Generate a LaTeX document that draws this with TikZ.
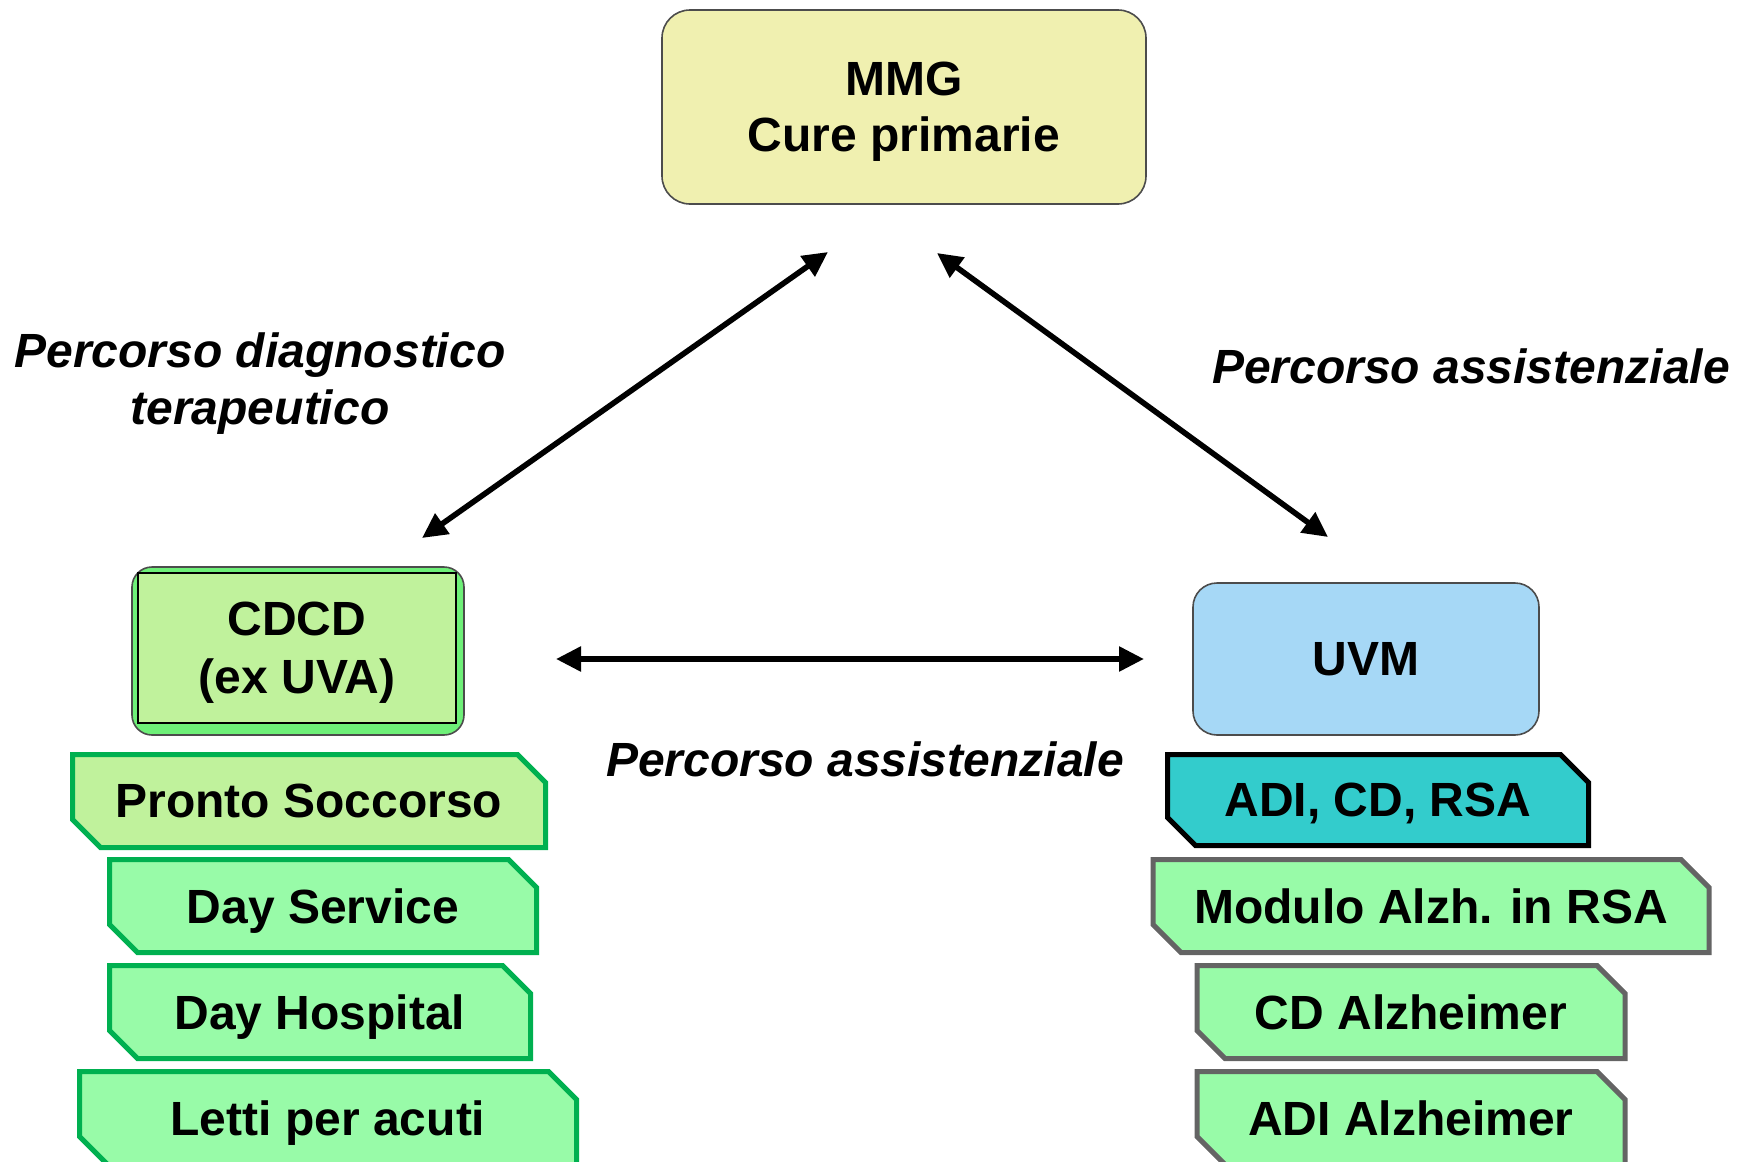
\documentclass[tikz,border=0pt]{standalone}
\usepackage{fontspec}
\setmainfont{Liberation Sans}
\usepackage{tikz}
\usetikzlibrary{shapes.misc}
\usetikzlibrary{arrows.meta}

\definecolor{mmgfill}{RGB}{240,240,176}
\definecolor{cdcdfill}{RGB}{192,242,156}
\definecolor{cdcdshade}{RGB}{110,240,120}
\definecolor{palefill}{RGB}{152,251,168}
\definecolor{greenline}{RGB}{0,176,80}
\definecolor{uvmfill}{RGB}{166,216,246}
\definecolor{adifill}{RGB}{51,204,204}
\definecolor{grayline}{RGB}{100,100,100}

\begin{document}
\begin{tikzpicture}[x=0.5pt,y=-0.5pt,
    font=\fontsize{24}{28}\selectfont\bfseries,
    roundbox/.style={draw=black!70,line width=0.8pt,rounded corners=14pt,align=center,inner sep=0pt,text depth=0pt},
    tabbox/.style={chamfered rectangle,chamfered rectangle corners={north east,south west},
        chamfered rectangle xsep=7pt,chamfered rectangle ysep=7pt,
        line width=2.5pt,inner sep=0pt,minimum height=46.5pt,text depth=0pt},
    lbl/.style={font=\fontsize{24}{28.5}\selectfont\bfseries\itshape,align=center},
    twoway/.style={line width=2.8pt,{Triangle[length=12.5pt,width=12pt]}-{Triangle[length=12.5pt,width=12pt]}}]
    \clip (0,0) rectangle (1742,1162);

    \node[roundbox,fill=mmgfill,minimum width=242pt,minimum height=97pt] (mmg) at (904,107) {MMG\\Cure primarie};

    % left column
    \node[roundbox,fill=cdcdshade,minimum width=166pt,minimum height=84pt,rounded corners=10pt] (cdcdbg) at (298,651) {};
    \node[draw,fill=cdcdfill,line width=0.8pt,minimum width=159pt,minimum height=75pt,align=center,inner sep=0pt,text depth=0pt,
        font=\fontsize{24}{29}\selectfont\bfseries] (cdcd) at (297,648) {CDCD\\(ex UVA)};
    \node[tabbox,draw=greenline,fill=cdcdfill,minimum width=236.5pt] (ps) at (309,801) {Pronto Soccorso};
    \node[tabbox,draw=greenline,fill=palefill,minimum width=213.5pt] (ds) at (323,906) {Day Service};
    \node[tabbox,draw=greenline,fill=palefill,minimum width=210.5pt] (dh) at (320,1012) {Day Hospital};
    \node[tabbox,draw=greenline,fill=palefill,minimum width=248.5pt] (lpa) at (328,1118) {Letti per acuti};

    % right column
    \node[roundbox,fill=uvmfill,minimum width=173pt,minimum height=76pt,rounded corners=12pt] (uvm) at (1366,659) {UVM};
    \node[tabbox,draw=black,fill=adifill,minimum width=210.5pt,minimum height=45.5pt] (adi) at (1378,800) {ADI, CD, RSA};
    \node[tabbox,draw=grayline,fill=palefill,minimum width=278pt] (mod) at (1431,906) {Modulo Alzh. in RSA};
    \node[tabbox,draw=grayline,fill=palefill,minimum width=214pt] (cda) at (1411,1012) {CD Alzheimer};
    \node[tabbox,draw=grayline,fill=palefill,minimum width=214pt] (adia) at (1411,1118) {ADI Alzheimer};

    \node[lbl] (pdt) at (260,384) {Percorso diagnostico\\terapeutico};
    \node[lbl] (pa1) at (1471,366) {Percorso assistenziale};
    \node[lbl] (pa2) at (865,759) {Percorso assistenziale};

    \coordinate (mmgl) at (828,252);
    \coordinate (mmgr) at (937,253);
    \coordinate (cdcdt) at (422,538);
    \coordinate (uvmt) at (1328,537);
    \coordinate (cdcdr) at (556,659);
    \coordinate (uvml) at (1144,659);
    \draw[twoway] (mmgl) -- (cdcdt);
    \draw[twoway] (mmgr) -- (uvmt);
    \draw[twoway] (cdcdr) -- (uvml);
\end{tikzpicture}
\end{document}
